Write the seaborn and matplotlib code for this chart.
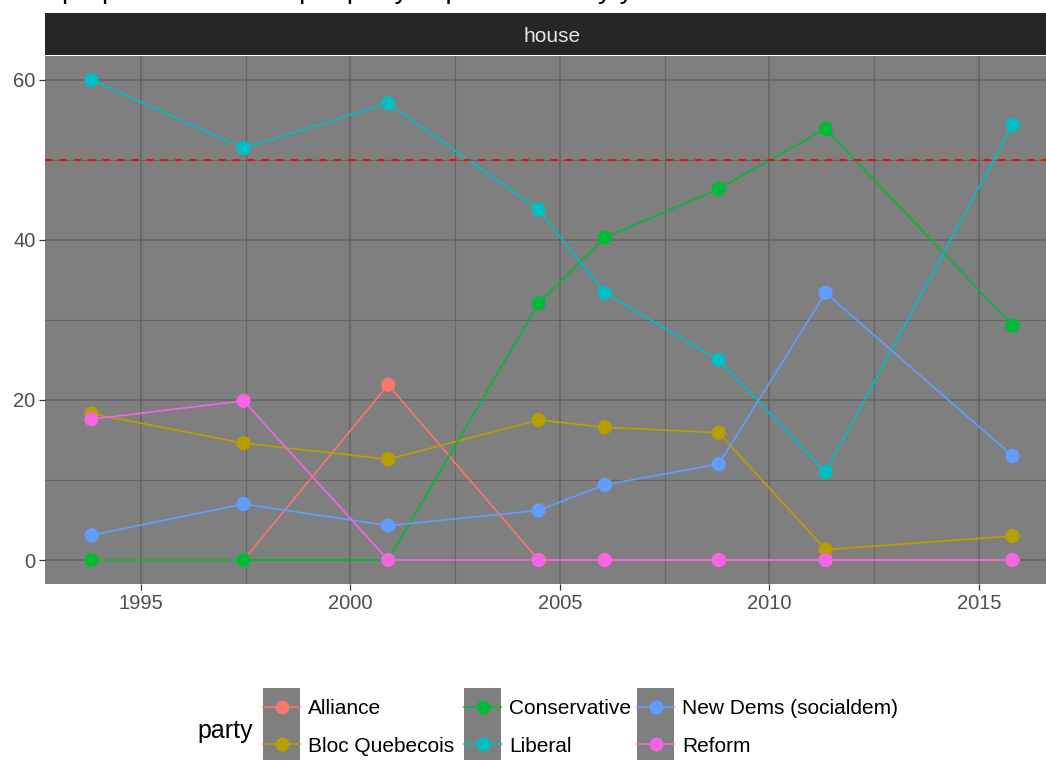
import numpy as np
import pandas as pd
import seaborn as sns
import matplotlib
matplotlib.use("Agg")
import matplotlib.pyplot as plt
from matplotlib.lines import Line2D
from matplotlib.patches import Rectangle
from matplotlib.ticker import MultipleLocator

# ---- data ----
years = [1993.82, 1997.45, 2000.90, 2004.49, 2006.07, 2008.79, 2011.34, 2015.80]
parties = ["Alliance", "Bloc Quebecois", "Conservative", "Liberal",
           "New Dems (socialdem)", "Reform"]
alliance = [0, 0, 21.9, 0, 0, 0, 0, 0]
bloc = [18.3, 14.6, 12.6, 17.5, 16.6, 15.9, 1.3, 3.0]
conservative = [0, 0, 0, 32.1, 40.3, 46.4, 53.9, 29.3]
liberal = [60.0, 51.5, 57.1, 43.8, 33.4, 25.0, 11.0, 54.4]
ndp = [3.1, 7.0, 4.3, 6.2, 9.4, 12.0, 33.4, 13.0]
reform = [17.6, 19.9, 0, 0, 0, 0, 0, 0]
colors = ["#F8766D", "#B79F00", "#00BA38", "#00BFC4", "#619CFF", "#F564E3"]
majority = 50
x_ticks = [1995, 2000, 2005, 2010, 2015]
y_ticks = [0, 20, 40, 60]
facet_label = "house"
legend_title = "party"
title = "proportion of seats per party in parliament by year"

plt.rcParams["font.family"] = ["Liberation Sans", "DejaVu Sans"]

series = [alliance, bloc, conservative, liberal, ndp, reform]
df = pd.DataFrame({
    "year": np.tile(years, len(parties)),
    "pct": np.concatenate(series),
    "party": np.repeat(parties, len(years)),
})

W, H = 1046, 760
fig = plt.figure(figsize=(W / 100, H / 100), dpi=100)
fig.patch.set_facecolor("white")

px_l, px_r, px_t, px_b = 45.4, 1058.6, 56, 584
ax = fig.add_axes([px_l / W, 1 - px_b / H, (px_r - px_l) / W, (px_b - px_t) / H])
ax.set_facecolor("#7F7F7F")
for s in ax.spines.values():
    s.set_visible(False)

pal = dict(zip(parties, colors))
sns.lineplot(data=df, x="year", y="pct", hue="party", hue_order=parties,
             palette=pal, linewidth=1.2, legend=False, ax=ax, zorder=2)
sns.scatterplot(data=df, x="year", y="pct", hue="party", hue_order=parties,
                palette=pal, s=105, linewidth=0, edgecolor="none",
                legend=False, ax=ax, zorder=3)
ax.axhline(majority, color="#FF0000", ls=(0, (4, 4)), lw=1.3, zorder=2.5)

ax.set_xlim(1992.72, 2016.90)
ax.set_ylim(-3, 63)
ax.set_xticks(x_ticks)
ax.set_yticks(y_ticks)
ax.xaxis.set_minor_locator(MultipleLocator(2.5))
ax.yaxis.set_minor_locator(MultipleLocator(10))
ax.set_axisbelow(True)
ax.grid(which="major", color="#666666", lw=1.2)
ax.grid(which="minor", color="#666666", lw=0.8)
ax.tick_params(which="major", length=4, width=0.9, color="#333333",
               labelsize=14.5, labelcolor="#4D4D4D", pad=3)
ax.tick_params(which="minor", length=0)
ax.set_xlabel("")
ax.set_ylabel("")

# facet strip
fig.add_artist(Rectangle((px_l / W, 1 - 55 / H), (px_r - px_l) / W, 42 / H,
                         transform=fig.transFigure, facecolor="#262626",
                         edgecolor="none", zorder=1))
fig.text((px_l + px_r) / 2 / W, 1 - 37 / H, facet_label, color="#E6E6E6",
         fontsize=15, ha="center", va="center")

# title (cropped at the top, as in the reference)
fig.text(62 / W, 1.003, title, fontsize=20, ha="left", va="baseline", color="black")

# legend: three columns placed at the reference positions
key_w = 37
col_x = [263, 464, 637]
fs = 15
for ci, x0 in enumerate(col_x):
    idx = [2 * ci, 2 * ci + 1]
    hs = [Line2D([0], [0], color=colors[i], lw=1.2, marker="o", markersize=10,
                 markeredgewidth=0) for i in idx]
    fs_px = fs * 100 / 72
    lg = fig.legend(hs, [parties[i] for i in idx], loc="center left",
                    bbox_to_anchor=(x0 / W, 1 - 727.5 / H), frameon=False,
                    fontsize=fs, handlelength=key_w / fs_px,
                    handletextpad=8 / fs_px, labelspacing=0.88,
                    borderpad=0, borderaxespad=0)
    fig.add_artist(Rectangle((x0 / W, 0), key_w / W, (760 - 688) / H,
                             transform=fig.transFigure, facecolor="#7F7F7F",
                             edgecolor="none", zorder=0.5))
fig.text(197 / W, 1 - 731 / H, legend_title, fontsize=18, ha="left",
         va="center", color="black")

fig.savefig("out.png", dpi=100)
